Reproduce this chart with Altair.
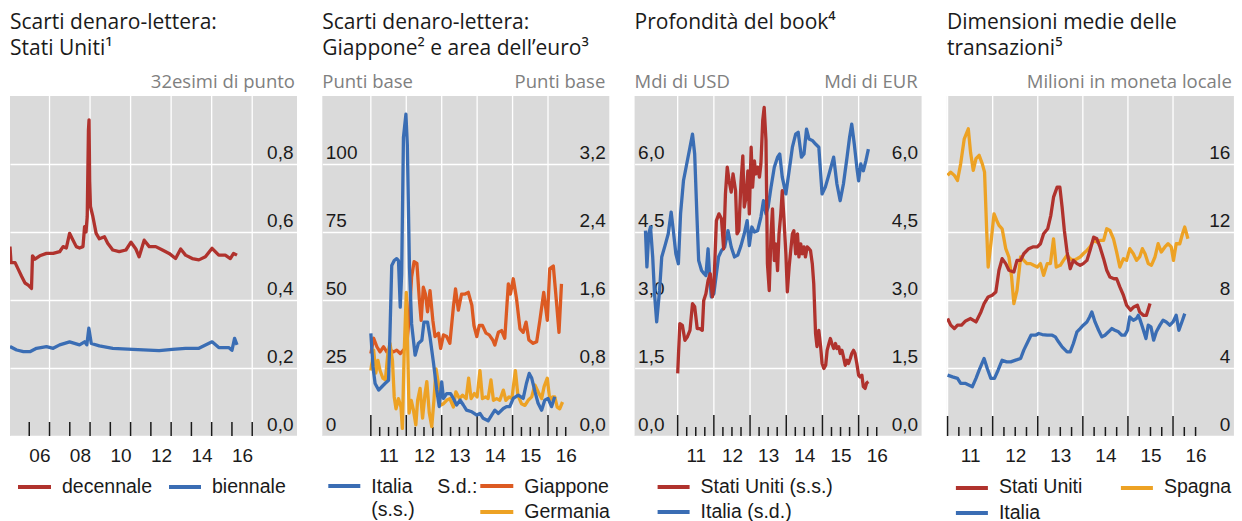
import altair as alt
import pandas as pd

# ---------------- data (year, value) ----------------
# Panel 1: US bid-ask spreads, 32nds of a point
us_10y = [(2005.05, 0.557), (2005.10, 0.51), (2005.30, 0.51), (2005.46, 0.49), (2005.62, 0.47),
          (2005.79, 0.45), (2005.95, 0.444), (2006.11, 0.434), (2006.16, 0.53), (2006.28, 0.52),
          (2006.52, 0.53), (2006.85, 0.537), (2007.18, 0.537), (2007.50, 0.542), (2007.67, 0.557),
          (2007.83, 0.553), (2007.99, 0.596), (2008.16, 0.576), (2008.32, 0.557), (2008.48, 0.553),
          (2008.65, 0.557), (2008.73, 0.616), (2008.80, 0.60), (2008.86, 0.645), (2008.92, 0.90),
          (2008.95, 0.93), (2008.98, 0.75), (2009.02, 0.675), (2009.14, 0.645), (2009.30, 0.596),
          (2009.46, 0.58), (2009.71, 0.586), (2009.87, 0.567), (2010.12, 0.547), (2010.44, 0.542),
          (2010.77, 0.547), (2011.02, 0.57), (2011.26, 0.55), (2011.42, 0.527), (2011.67, 0.576),
          (2011.92, 0.557), (2012.24, 0.557), (2012.57, 0.547), (2012.90, 0.537), (2013.22, 0.522),
          (2013.47, 0.55), (2013.71, 0.532), (2014.04, 0.522), (2014.37, 0.518), (2014.69, 0.527),
          (2015.02, 0.552), (2015.35, 0.532), (2015.67, 0.532), (2015.92, 0.522), (2016.08, 0.537),
          (2016.25, 0.532)]
us_2y = [(2005.05, 0.263), (2005.38, 0.253), (2005.71, 0.248), (2006.03, 0.248), (2006.36, 0.258),
         (2006.85, 0.263), (2007.18, 0.258), (2007.50, 0.268), (2007.99, 0.277), (2008.48, 0.268),
         (2008.73, 0.277), (2008.84, 0.268), (2008.94, 0.317), (2009.06, 0.272), (2009.46, 0.265),
         (2010.12, 0.258), (2011.10, 0.255), (2012.41, 0.251), (2013.06, 0.255), (2013.71, 0.258),
         (2014.37, 0.258), (2015.02, 0.277), (2015.35, 0.26), (2015.84, 0.26), (2016.00, 0.252),
         (2016.13, 0.287), (2016.25, 0.268)]

# Panel 2: Italy (left, bp), Japan and Germany (right, bp)
it_spread = [(2011.00, 37.7), (2011.06, 25.4), (2011.12, 19.3), (2011.22, 16.9), (2011.31, 18.1),
             (2011.40, 19.3), (2011.50, 20.5), (2011.54, 37.7), (2011.59, 62.7), (2011.66, 64.5),
             (2011.73, 65.2), (2011.78, 64.5), (2011.83, 47.4), (2011.87, 59.7), (2011.92, 109.8),
             (2011.99, 118.3), (2012.03, 107.0), (2012.09, 62.0), (2012.15, 41.3), (2012.25, 29.7),
             (2012.34, 34.0), (2012.44, 35.2), (2012.50, 41.9), (2012.60, 41.9), (2012.67, 36.4),
             (2012.77, 26.7), (2012.86, 16.9), (2012.93, 10.8), (2013.00, 19.9), (2013.05, 13.8),
             (2013.14, 15.6), (2013.25, 15.6), (2013.33, 13.8), (2013.42, 11.4), (2013.52, 13.2),
             (2013.61, 11.4), (2013.70, 9.5), (2013.85, 8.9), (2013.99, 7.7), (2014.08, 8.3),
             (2014.17, 6.5), (2014.31, 5.6), (2014.41, 7.7), (2014.50, 9.5), (2014.60, 8.3),
             (2014.74, 10.1), (2014.83, 10.8), (2014.92, 10.8), (2015.02, 13.8), (2015.16, 15.0),
             (2015.30, 13.8), (2015.39, 19.3), (2015.47, 23.0), (2015.54, 21.3), (2015.63, 16.4),
             (2015.72, 12.0), (2015.82, 9.5), (2015.91, 13.2), (2016.00, 13.8), (2016.10, 10.8),
             (2016.19, 14.4)]
jp_spread = [(2011.00, 0.97), (2011.08, 1.15), (2011.17, 1.05), (2011.26, 0.99), (2011.36, 1.05),
             (2011.45, 0.99), (2011.54, 1.01), (2011.64, 0.99), (2011.73, 1.01), (2011.83, 0.97),
             (2011.92, 1.01), (2012.01, 1.05), (2012.09, 1.44), (2012.15, 1.87), (2012.22, 2.05),
             (2012.30, 2.03), (2012.37, 1.60), (2012.42, 1.36), (2012.48, 1.75), (2012.54, 1.67),
             (2012.60, 1.46), (2012.67, 1.71), (2012.75, 1.36), (2012.81, 1.17), (2012.91, 1.21),
             (2012.97, 1.03), (2013.05, 1.19), (2013.14, 1.17), (2013.23, 1.09), (2013.33, 1.52),
             (2013.39, 1.73), (2013.47, 1.48), (2013.56, 1.67), (2013.66, 1.67), (2013.75, 1.69),
             (2013.85, 1.54), (2013.91, 1.30), (2013.99, 1.17), (2014.06, 1.30), (2014.15, 1.30),
             (2014.25, 1.21), (2014.34, 1.19), (2014.44, 1.13), (2014.50, 1.07), (2014.60, 1.22),
             (2014.69, 1.24), (2014.78, 1.15), (2014.88, 1.79), (2014.94, 1.67), (2015.02, 1.85),
             (2015.11, 1.62), (2015.21, 1.26), (2015.30, 1.22), (2015.38, 1.34), (2015.46, 1.13),
             (2015.58, 1.09), (2015.68, 1.11), (2015.77, 1.36), (2015.88, 1.69), (2015.98, 1.36),
             (2016.05, 1.97), (2016.15, 2.00), (2016.22, 1.67), (2016.31, 1.22), (2016.38, 1.79)]
de_spread = [(2011.00, 0.77), (2011.08, 1.01), (2011.14, 0.74), (2011.20, 0.89), (2011.26, 0.77),
             (2011.34, 0.68), (2011.41, 0.66), (2011.48, 0.97), (2011.54, 1.09), (2011.61, 0.89),
             (2011.66, 0.46), (2011.71, 0.32), (2011.78, 0.44), (2011.85, 0.34), (2011.89, 0.09),
             (2011.94, 0.97), (2012.00, 1.69), (2012.03, 1.20), (2012.08, 0.27), (2012.14, 0.42),
             (2012.20, 0.31), (2012.27, 0.13), (2012.32, 0.42), (2012.39, 0.56), (2012.46, 0.21),
             (2012.53, 0.50), (2012.58, 0.64), (2012.65, 0.27), (2012.72, 0.11), (2012.78, 0.42),
             (2012.84, 0.79), (2012.91, 0.61), (2012.95, 0.36), (2013.05, 0.38), (2013.14, 0.42),
             (2013.23, 0.44), (2013.33, 0.34), (2013.40, 0.52), (2013.50, 0.44), (2013.59, 0.48),
             (2013.69, 0.44), (2013.76, 0.68), (2013.83, 0.44), (2013.92, 0.50), (2014.00, 0.46),
             (2014.08, 0.77), (2014.15, 0.44), (2014.24, 0.46), (2014.31, 0.44), (2014.39, 0.66),
             (2014.46, 0.42), (2014.55, 0.44), (2014.64, 0.42), (2014.74, 0.54), (2014.81, 0.42),
             (2014.90, 0.46), (2014.98, 0.44), (2015.08, 0.77), (2015.15, 0.48), (2015.25, 0.38),
             (2015.35, 0.36), (2015.44, 0.42), (2015.54, 0.46), (2015.63, 0.60), (2015.72, 0.52),
             (2015.82, 0.44), (2015.89, 0.58), (2015.98, 0.68), (2016.05, 0.42), (2016.13, 0.46),
             (2016.19, 0.46), (2016.26, 0.34), (2016.33, 0.32), (2016.41, 0.40)]

# Panel 3: order-book depth, US (left, bn USD) and Italy (right, bn EUR)
us_depth = [(2011.00, 1.38), (2011.06, 2.48), (2011.13, 2.44), (2011.20, 2.11), (2011.27, 2.19),
            (2011.34, 2.33), (2011.41, 2.92), (2011.47, 2.85), (2011.54, 2.37), (2011.61, 2.37),
            (2011.68, 2.33), (2011.72, 2.99), (2011.78, 3.14), (2011.84, 3.43), (2011.90, 3.58),
            (2011.96, 3.07), (2012.00, 3.29), (2012.07, 4.75), (2012.14, 4.90), (2012.21, 4.79),
            (2012.27, 4.13), (2012.32, 5.34), (2012.37, 5.93), (2012.42, 5.63), (2012.48, 5.38),
            (2012.53, 5.78), (2012.60, 5.41), (2012.64, 4.46), (2012.69, 4.53), (2012.75, 5.60),
            (2012.80, 6.18), (2012.84, 5.05), (2012.89, 5.27), (2012.94, 5.85), (2012.98, 4.90),
            (2013.03, 6.37), (2013.07, 5.49), (2013.12, 6.07), (2013.16, 5.78), (2013.21, 5.93),
            (2013.26, 5.71), (2013.30, 6.00), (2013.35, 6.96), (2013.39, 7.25), (2013.44, 6.52),
            (2013.48, 3.80), (2013.53, 3.21), (2013.58, 4.46), (2013.62, 5.01), (2013.67, 3.87),
            (2013.71, 4.24), (2013.76, 3.65), (2013.80, 4.46), (2013.85, 4.90), (2013.89, 5.41),
            (2013.94, 4.75), (2013.99, 4.02), (2014.03, 3.18), (2014.08, 3.73), (2014.12, 4.06),
            (2014.17, 4.46), (2014.21, 4.53), (2014.26, 4.02), (2014.31, 4.46), (2014.35, 3.95),
            (2014.40, 4.24), (2014.44, 4.02), (2014.49, 4.17), (2014.53, 3.95), (2014.58, 4.17),
            (2014.63, 4.13), (2014.67, 4.09), (2014.72, 3.80), (2014.76, 3.36), (2014.81, 2.26),
            (2014.85, 1.97), (2014.90, 2.33), (2014.95, 1.97), (2014.99, 1.60), (2015.04, 1.49),
            (2015.09, 1.56), (2015.13, 1.89), (2015.18, 2.04), (2015.22, 2.15), (2015.26, 2.04),
            (2015.31, 1.93), (2015.36, 2.04), (2015.40, 1.93), (2015.45, 1.97), (2015.49, 1.82),
            (2015.54, 1.89), (2015.58, 1.75), (2015.63, 1.56), (2015.68, 1.67), (2015.72, 1.60),
            (2015.77, 1.71), (2015.81, 1.82), (2015.86, 1.89), (2015.90, 1.82), (2015.95, 1.60),
            (2016.00, 1.34), (2016.04, 1.30), (2016.09, 1.34), (2016.13, 1.09), (2016.18, 1.05),
            (2016.22, 1.17), (2016.27, 1.20)]
it_depth = [(2010.11, 4.53), (2010.15, 3.73), (2010.20, 4.46), (2010.25, 4.61), (2010.31, 3.95),
            (2010.36, 3.14), (2010.42, 2.52), (2010.50, 3.21), (2010.56, 3.95), (2010.65, 4.20),
            (2010.74, 4.46), (2010.82, 4.94), (2010.88, 4.53), (2010.95, 4.02), (2011.02, 3.80),
            (2011.08, 4.90), (2011.16, 5.63), (2011.25, 6.00), (2011.34, 6.37), (2011.41, 6.66),
            (2011.47, 6.22), (2011.53, 4.90), (2011.58, 3.87), (2011.66, 3.65), (2011.73, 3.58),
            (2011.78, 3.54), (2011.84, 4.13), (2011.89, 3.45), (2011.93, 3.07), (2012.00, 3.14),
            (2012.07, 3.58), (2012.13, 3.95), (2012.21, 4.09), (2012.30, 4.17), (2012.39, 4.53),
            (2012.48, 4.17), (2012.57, 3.95), (2012.66, 3.99), (2012.75, 4.20), (2012.84, 4.46),
            (2012.92, 4.75), (2012.98, 4.20), (2013.05, 4.61), (2013.12, 4.50), (2013.21, 4.53),
            (2013.30, 4.83), (2013.37, 5.19), (2013.44, 4.90), (2013.50, 5.05), (2013.58, 5.49),
            (2013.67, 5.93), (2013.76, 6.15), (2013.82, 6.22), (2013.89, 5.71), (2013.99, 5.34),
            (2014.08, 5.85), (2014.17, 6.37), (2014.26, 6.66), (2014.33, 6.70), (2014.42, 6.15),
            (2014.49, 6.22), (2014.56, 6.77), (2014.63, 6.55), (2014.72, 6.52), (2014.81, 6.44),
            (2014.90, 6.37), (2014.99, 5.34), (2015.08, 5.49), (2015.17, 5.74), (2015.31, 6.15),
            (2015.40, 5.56), (2015.49, 5.19), (2015.58, 5.56), (2015.68, 6.15), (2015.75, 6.59),
            (2015.81, 6.88), (2015.88, 6.44), (2015.95, 5.93), (2016.00, 5.63), (2016.06, 6.00),
            (2016.13, 5.85), (2016.20, 6.07), (2016.27, 6.33)]

# Panel 4: average trade size, millions of local currency
us_size = [(2011.00, 6.91), (2011.07, 6.52), (2011.15, 6.32), (2011.22, 6.52), (2011.31, 6.52),
           (2011.40, 6.77), (2011.51, 6.91), (2011.63, 6.71), (2011.74, 7.30), (2011.81, 7.79),
           (2011.90, 8.18), (2011.99, 8.28), (2012.07, 8.47), (2012.14, 9.75), (2012.21, 10.43),
           (2012.29, 10.14), (2012.36, 9.75), (2012.47, 9.65), (2012.54, 10.33), (2012.62, 10.33),
           (2012.69, 10.72), (2012.80, 11.02), (2012.89, 11.12), (2012.99, 11.12), (2013.06, 11.31),
           (2013.13, 11.90), (2013.22, 12.19), (2013.29, 12.98), (2013.35, 14.05), (2013.43, 14.64),
           (2013.49, 14.64), (2013.54, 13.46), (2013.59, 12.09), (2013.65, 10.82), (2013.72, 9.84),
           (2013.79, 10.33), (2013.87, 10.14), (2013.94, 10.04), (2014.01, 10.14), (2014.09, 10.33),
           (2014.16, 10.92), (2014.24, 11.70), (2014.31, 11.60), (2014.38, 11.12), (2014.46, 10.43),
           (2014.53, 9.75), (2014.60, 9.35), (2014.69, 9.25), (2014.75, 9.25), (2014.82, 8.77),
           (2014.90, 8.28), (2014.97, 7.69), (2015.06, 7.40), (2015.13, 7.59), (2015.21, 7.69),
           (2015.26, 7.30), (2015.34, 7.10), (2015.41, 7.10), (2015.49, 7.79)]
es_size = [(2011.00, 15.33), (2011.07, 15.52), (2011.15, 15.33), (2011.22, 15.03), (2011.29, 16.01),
           (2011.37, 17.48), (2011.46, 18.07), (2011.51, 16.67), (2011.57, 15.62), (2011.63, 16.31),
           (2011.70, 16.51), (2011.77, 16.01), (2011.82, 15.52), (2011.87, 11.90), (2011.90, 9.94),
           (2011.96, 11.31), (2012.03, 13.07), (2012.09, 12.68), (2012.14, 12.39), (2012.21, 12.19),
           (2012.29, 11.02), (2012.36, 10.53), (2012.42, 9.35), (2012.47, 7.79), (2012.54, 8.57),
           (2012.62, 10.53), (2012.69, 10.33), (2012.76, 10.14), (2012.84, 10.14), (2012.91, 10.04),
           (2012.99, 9.94), (2013.06, 10.14), (2013.13, 9.45), (2013.21, 10.14), (2013.28, 10.14),
           (2013.35, 11.60), (2013.41, 9.94), (2013.50, 10.04), (2013.57, 10.33), (2013.65, 10.63),
           (2013.72, 10.43), (2013.79, 10.33), (2013.87, 10.43), (2013.94, 10.53), (2014.01, 10.72),
           (2014.09, 10.92), (2014.16, 11.12), (2014.24, 11.51), (2014.31, 11.41), (2014.38, 11.51),
           (2014.46, 11.51), (2014.53, 12.19), (2014.60, 12.09), (2014.68, 11.60), (2014.75, 10.82),
           (2014.82, 9.94), (2014.90, 10.43), (2014.97, 10.33), (2015.04, 11.02), (2015.12, 10.72),
           (2015.19, 10.33), (2015.26, 10.53), (2015.32, 11.02), (2015.38, 10.72), (2015.45, 10.14),
           (2015.52, 10.04), (2015.60, 10.53), (2015.67, 11.31), (2015.74, 10.82), (2015.82, 11.12),
           (2015.89, 11.31), (2015.96, 11.12), (2016.01, 10.33), (2016.07, 11.31), (2016.15, 11.31),
           (2016.21, 11.90), (2016.26, 12.29), (2016.33, 11.60)]
it_size = [(2011.00, 3.58), (2011.11, 3.48), (2011.22, 3.39), (2011.29, 3.09), (2011.40, 3.09),
           (2011.48, 2.99), (2011.55, 2.90), (2011.63, 3.39), (2011.70, 3.87), (2011.81, 4.56),
           (2011.88, 3.97), (2011.96, 3.39), (2012.04, 3.39), (2012.12, 3.87), (2012.21, 4.46),
           (2012.31, 4.36), (2012.40, 4.36), (2012.51, 4.46), (2012.62, 4.56), (2012.69, 5.05),
           (2012.78, 5.54), (2012.85, 5.93), (2012.95, 5.93), (2013.02, 6.03), (2013.10, 5.97),
           (2013.21, 5.93), (2013.32, 5.93), (2013.39, 5.83), (2013.46, 5.54), (2013.54, 5.24),
           (2013.65, 4.95), (2013.72, 4.95), (2013.79, 5.44), (2013.87, 6.13), (2013.94, 6.32),
           (2014.01, 6.52), (2014.09, 6.71), (2014.15, 7.00), (2014.20, 7.30), (2014.27, 6.71),
           (2014.35, 6.22), (2014.42, 5.83), (2014.49, 5.93), (2014.57, 6.13), (2014.64, 6.32),
           (2014.71, 6.22), (2014.79, 6.13), (2014.86, 5.93), (2014.93, 5.93), (2014.99, 6.22),
           (2015.04, 7.00), (2015.12, 6.81), (2015.19, 6.91), (2015.23, 7.10), (2015.26, 6.91),
           (2015.32, 6.42), (2015.40, 5.73), (2015.45, 6.52), (2015.51, 6.42), (2015.57, 5.64),
           (2015.63, 6.13), (2015.71, 6.52), (2015.78, 6.81), (2015.85, 6.71), (2015.93, 6.52),
           (2016.00, 6.71), (2016.07, 7.10), (2016.13, 6.22), (2016.21, 6.81), (2016.26, 7.20)]

# axis / tick positions (years)
p1_labels = [2006.5, 2008.5, 2010.5, 2012.5, 2014.5, 2016.5]
p1_grid = [2007, 2009, 2011, 2013, 2015, 2017]
p1_ticks = [2006, 2007, 2008, 2009, 2010, 2011, 2012, 2013, 2014, 2015, 2016, 2017]
q_labels = [2011.5, 2012.5, 2013.5, 2014.5, 2015.5, 2016.5]
q_grid = [2011, 2012, 2013, 2014, 2015, 2016]
q_major = [2011, 2012, 2013, 2014, 2015, 2016]
q_minor = [2011.25, 2011.5, 2011.75, 2012.25, 2012.5, 2012.75, 2013.25, 2013.5, 2013.75,
           2014.25, 2014.5, 2014.75, 2015.25, 2015.5, 2015.75, 2016.25, 2016.5]

# ---------------- styling ----------------
RED = "#b0322d"
BLUE = "#3a6db4"
ORANGE = "#dc5a22"
YELLOW = "#eda224"
INK = "#1a1a1a"
GREY = "#808080"
BG = "#dadada"
W, H = 287, 340
TFONT = "Open Sans"
LFONT = "Liberation Sans"
DUMMY = pd.DataFrame({"a": [0]})
DEC1 = "replace(format(datum.value, '.1f'), '.', ',')"
INT = "format(datum.value, 'd')"


def frame(pairs, color):
    return pd.DataFrame({"x": [p[0] for p in pairs], "y": [p[1] for p in pairs], "c": color})


def xenc(domain, labels):
    return alt.X("x:Q", scale=alt.Scale(domain=domain, nice=False, zero=False),
                 axis=alt.Axis(values=labels, labelExpr="substring(toString(floor(datum.value)), 2, 4)",
                               grid=False, ticks=False, domain=False, labelPadding=10, title=None,
                               labelFlush=False, labelOverlap=False, labelFontSize=19,
                               labelFont=LFONT, labelColor=INK),
                 title=None)


def yaxis(orient, values, expr, grid):
    right = orient == "right"
    return alt.Axis(orient=orient, values=values, labelExpr=expr, grid=grid, gridColor="white",
                    gridWidth=1.3, gridOpacity=1, ticks=False, domain=False,
                    labelAlign="right" if right else "left", labelPadding=-4 if right else -3,
                    labelBaseline="alphabetic", labelOffset=-6, title=None, labelFlush=False,
                    labelOverlap=False, labelFontSize=19, labelFont=LFONT, labelColor=INK)


def text(x, y, s, size, color=INK, font=LFONT, align="left"):
    return alt.Chart(DUMMY).mark_text(text=s, fontSize=size, font=font, color=color, align=align,
                                      baseline="alphabetic").encode(x=alt.value(x), y=alt.value(y))


def swatch(x1, x2, y, color):
    return alt.Chart(DUMMY).mark_rule(color=color, strokeWidth=4).encode(
        x=alt.value(x1), x2=alt.value(x2), y=alt.value(y))


def grid_rules(X, years):
    return alt.Chart(pd.DataFrame({"x": years})).mark_rule(color="white", strokeWidth=1.3).encode(x=X)


def tick_rules(X, years, length):
    return alt.Chart(pd.DataFrame({"x": years})).mark_rule(color=INK, strokeWidth=1.5).encode(
        x=X, y=alt.value(H), y2=alt.value(H - length))


def lines(df, X, Y):
    return alt.Chart(df).mark_line(strokeWidth=3.3, strokeJoin="round", clip=True).encode(
        x=X, y=Y, color=alt.Color("c:N", scale=None), detail="c:N")


def titles(lines_):
    return [text(0, -67 + 26 * i, s, 21, INK, TFONT) for i, s in enumerate(lines_)]


VIEW = alt.ViewBackground(fill=BG, stroke=None)
UNIT = 18.5

# ---------------- panel 1 ----------------
X1 = xenc([2005.05, 2019.21], p1_labels)
df1 = pd.concat([frame(us_10y, RED), frame(us_2y, BLUE)])
Y1 = alt.Y("y:Q", scale=alt.Scale(domain=[0, 1.0], nice=False),
           axis=yaxis("right", [0, 0.2, 0.4, 0.6, 0.8], DEC1, True))
p1 = alt.layer(
    grid_rules(X1, p1_grid),
    tick_rules(X1, p1_ticks, 14),
    lines(df1, X1, Y1),
    *titles(["Scarti denaro-lettera:", "Stati Uniti¹"]),
    text(W - 2, -8, "32esimi di punto", UNIT, GREY, TFONT, "right"),
    swatch(8, 41, 391, RED), text(52, 397, "decennale", 19.5),
    swatch(159, 191, 391, BLUE), text(202, 397, "biennale", 19.5),
).properties(width=W, height=H, view=VIEW)

# ---------------- panel 2 ----------------
X2 = xenc([2009.63, 2017.73], q_labels)
df2l = frame(it_spread, BLUE)
df2r = pd.concat([frame(jp_spread, ORANGE), frame(de_spread, YELLOW)])
Y2l = alt.Y("y:Q", scale=alt.Scale(domain=[0, 125], nice=False),
            axis=yaxis("left", [0, 25, 50, 75, 100], INT, True))
Y2r = alt.Y("y:Q", scale=alt.Scale(domain=[0, 4], nice=False),
            axis=yaxis("right", [0, 0.8, 1.6, 2.4, 3.2], DEC1, False))
p2 = alt.layer(
    grid_rules(X2, q_grid),
    tick_rules(X2, q_major, 21),
    tick_rules(X2, q_minor, 9),
    lines(df2r, X2, Y2r),
    lines(df2l, X2, Y2l),
    *titles(["Scarti denaro-lettera:", "Giappone² e area dell’euro³"]),
    text(0, -8, "Punti base", UNIT, GREY, TFONT),
    text(W - 4, -8, "Punti base", UNIT, GREY, TFONT, "right"),
    swatch(6, 38, 390, BLUE), text(49, 397, "Italia", 19.5), text(49, 420, "(s.s.)", 19.5),
    text(115, 397, "S.d.:", 19.5),
    swatch(158, 191, 390, ORANGE), text(202, 397, "Giappone", 19.5),
    swatch(158, 191, 416, YELLOW), text(202, 422, "Germania", 19.5),
).resolve_scale(y="independent").properties(width=W, height=H, view=VIEW)

# ---------------- panel 3 ----------------
X3 = xenc([2009.81, 2017.74], q_labels)
df3l = frame(us_depth, RED)
df3r = frame(it_depth, BLUE)
Y3l = alt.Y("y:Q", scale=alt.Scale(domain=[0, 7.5], nice=False),
            axis=yaxis("left", [0, 1.5, 3.0, 4.5, 6.0], DEC1, True))
Y3r = alt.Y("y:Q", scale=alt.Scale(domain=[0, 7.5], nice=False),
            axis=yaxis("right", [0, 1.5, 3.0, 4.5, 6.0], DEC1, False))
p3 = alt.layer(
    grid_rules(X3, q_grid),
    tick_rules(X3, q_major, 21),
    tick_rules(X3, q_minor, 9),
    lines(df3r, X3, Y3r),
    lines(df3l, X3, Y3l),
    *titles(["Profondità del book⁴"]),
    text(0, -8, "Mdi di USD", UNIT, GREY, TFONT),
    text(W - 4, -8, "Mdi di EUR", UNIT, GREY, TFONT, "right"),
    swatch(23, 55, 391, RED), text(66, 397, "Stati Uniti (s.s.)", 19.5),
    swatch(23, 55, 416, BLUE), text(66, 422, "Italia (s.d.)", 19.5),
).resolve_scale(y="independent").properties(width=W, height=H, view=VIEW)

# ---------------- panel 4 ----------------
X4 = xenc([2010.985, 2017.35], q_labels)
df4 = pd.concat([frame(es_size, YELLOW), frame(us_size, RED), frame(it_size, BLUE)])
Y4 = alt.Y("y:Q", scale=alt.Scale(domain=[0, 20], nice=False),
           axis=yaxis("right", [0, 4, 8, 12, 16], INT, True))
p4 = alt.layer(
    grid_rules(X4, q_grid),
    tick_rules(X4, q_major, 20),
    tick_rules(X4, q_minor, 9),
    lines(df4, X4, Y4),
    *titles(["Dimensioni medie delle", "transazioni⁵"]),
    text(W - 2, -8, "Milioni in moneta locale", UNIT, GREY, TFONT, "right"),
    swatch(9, 41, 392, RED), text(52, 397, "Stati Uniti", 19.5),
    swatch(174, 206, 392, YELLOW), text(217, 397, "Spagna", 19.5),
    swatch(9, 41, 417, BLUE), text(52, 423, "Italia", 19.5),
).properties(width=W, height=H, view=VIEW)

chart = alt.hconcat(p1, p2, p3, p4, spacing=25.3, bounds="flush").properties(
    padding={"left": 2, "top": 4, "right": 0, "bottom": 0}
).configure_view(fill=BG, stroke=None)

chart.save("out.html", embed_options={"renderer": "svg", "actions": False})
